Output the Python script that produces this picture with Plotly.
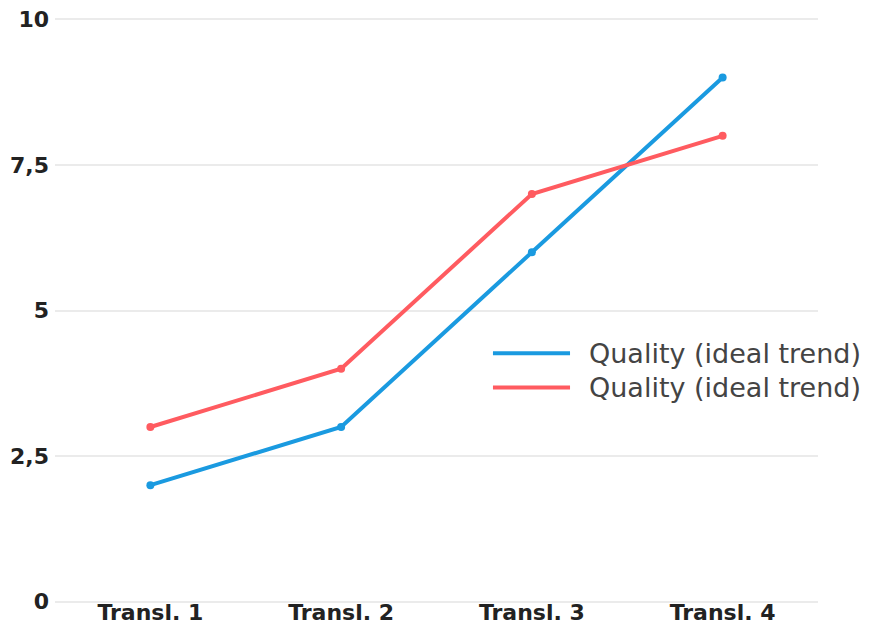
import plotly.graph_objects as go

categories = ["Transl. 1", "Transl. 2", "Transl. 3", "Transl. 4"]
blue_values = [2, 3, 6, 9]
red_values = [3, 4, 7, 8]
series_names = ["Quality (ideal trend)", "Quality (ideal trend)"]
y_tickvals = [0, 2.5, 5, 7.5, 10]
y_ticktext = ["0", "2,5", "5", "7,5", "10"]

BLUE = "#1a9ae0"
RED = "#ff5b60"
colors = [BLUE, RED]

fig = go.Figure()
for name, vals, col in zip(series_names, [blue_values, red_values], colors):
    fig.add_trace(go.Scatter(
        x=categories, y=vals, name=name, mode="lines+markers",
        line=dict(color=col, width=4),
        marker=dict(color=col, size=8),
        showlegend=False, cliponaxis=False,
    ))

# Hand-built legend with long sample lines
legend_x0, legend_x1, text_x = 0.574, 0.675, 0.697
legend_rows = [0.427, 0.369]
shapes = []
annotations = []
for name, col, yr in zip(series_names, colors, legend_rows):
    shapes.append(dict(type="line", xref="paper", yref="paper",
                       x0=legend_x0, x1=legend_x1, y0=yr, y1=yr,
                       line=dict(color=col, width=4)))
    annotations.append(dict(xref="paper", yref="paper", x=text_x, y=yr,
                            xanchor="left", yanchor="middle", showarrow=False,
                            text=name,
                            font=dict(family="DejaVu Sans", size=27, color="#444444")))

fig.update_layout(
    width=870, height=628,
    margin=dict(l=55, r=52, t=17, b=24, autoexpand=False),
    paper_bgcolor="white", plot_bgcolor="white",
    shapes=shapes, annotations=annotations,
    xaxis=dict(
        type="category", range=[-0.5, 3.5], automargin=False,
        showgrid=False, zeroline=False, showline=False, ticks="",
        ticklabelstandoff=-7,
        tickfont=dict(family="DejaVu Sans", size=22, color="#222222", weight="bold"),
    ),
    yaxis=dict(
        range=[-0.04, 10.04], tickvals=y_tickvals, ticktext=y_ticktext,
        automargin=False,
        showgrid=True, gridcolor="#ebebeb", gridwidth=1.5,
        zeroline=False, showline=False, ticks="",
        ticklabelstandoff=5,
        tickfont=dict(family="DejaVu Sans", size=22, color="#222222", weight="bold"),
    ),
)

fig.write_html("out.html")
